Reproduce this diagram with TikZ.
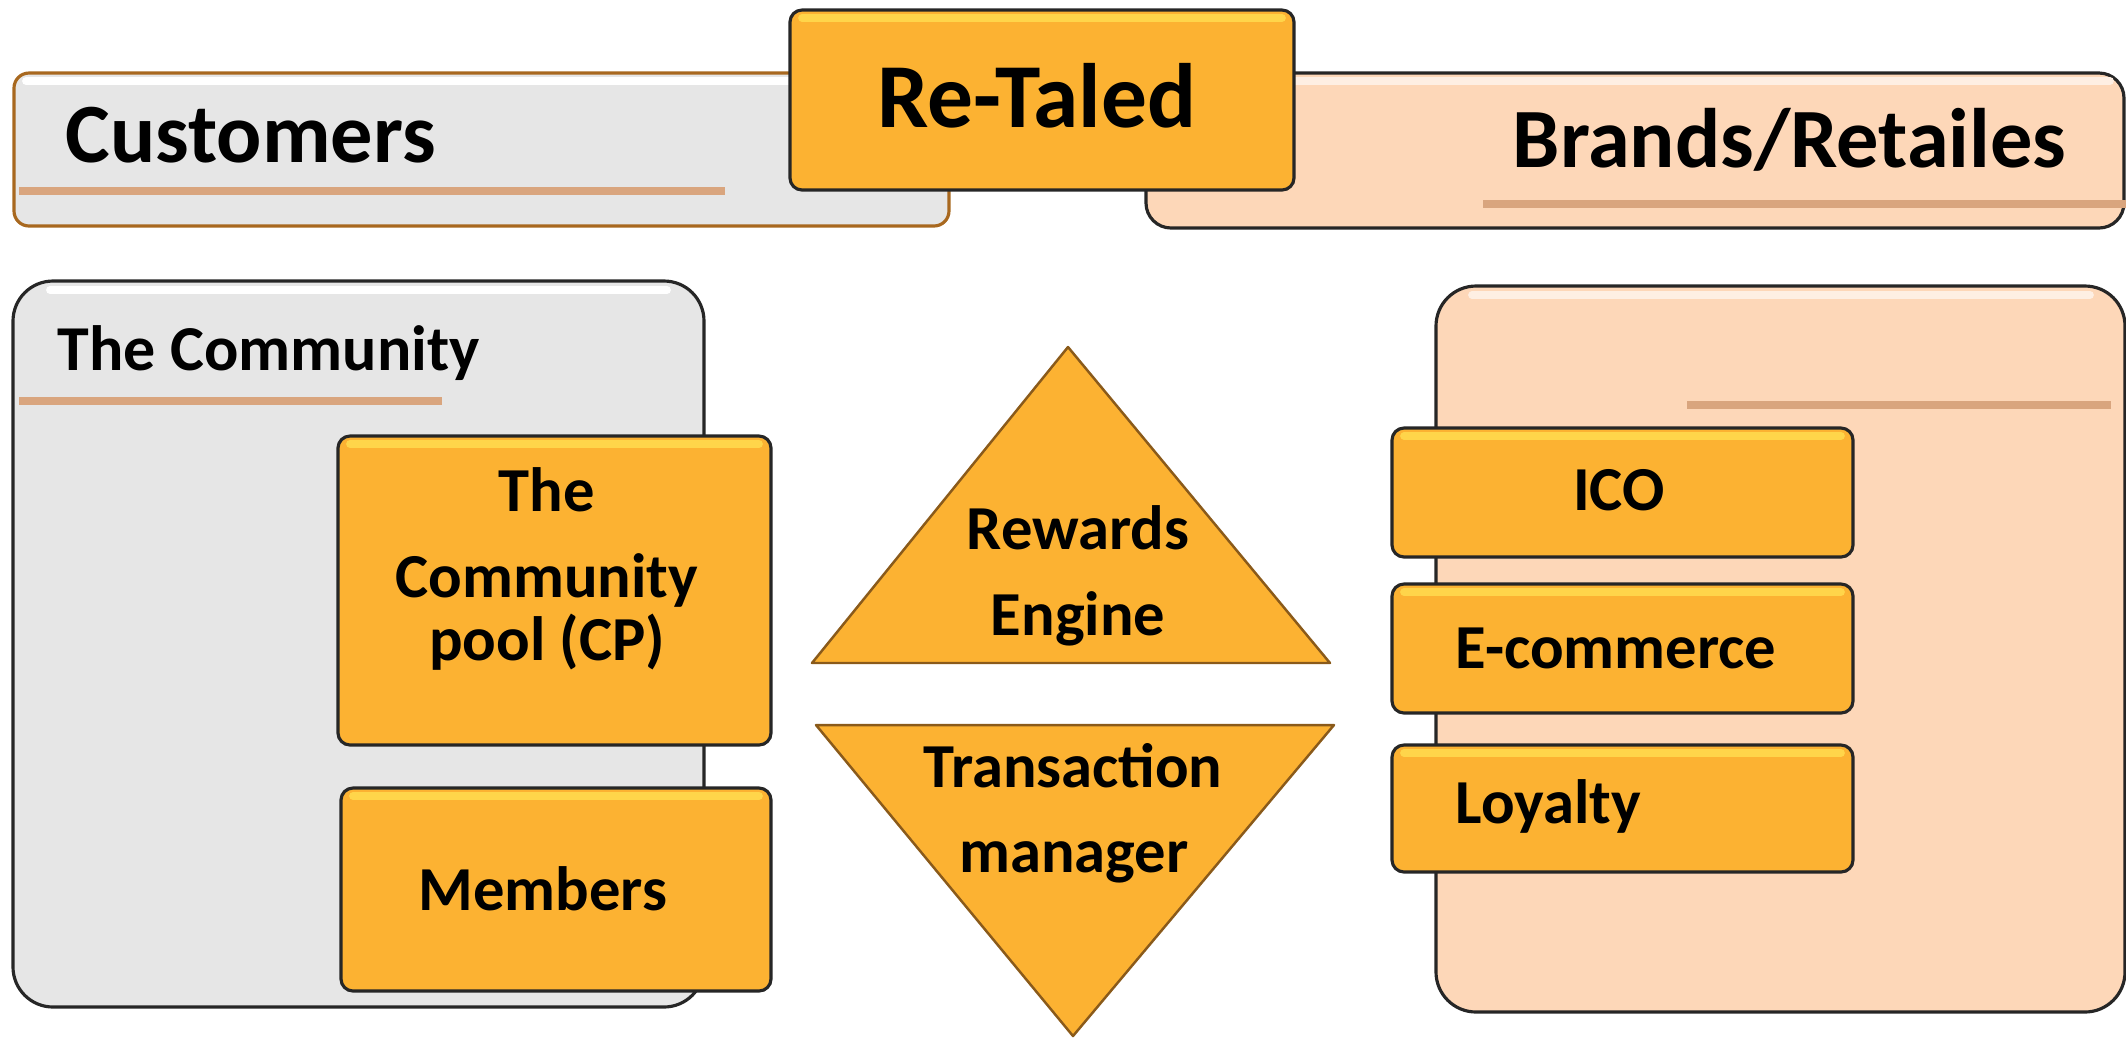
\documentclass[tikz,border=0pt]{standalone}
\usepackage{fontspec}
\setmainfont{Carlito}
\definecolor{tileorange}{HTML}{FCB232}
\definecolor{tilelight}{HTML}{FFD54A}
\definecolor{custgray}{HTML}{E6E6E6}
\definecolor{brandpeach}{HTML}{FDD7B8}
\definecolor{ruletan}{HTML}{D9A57E}
\definecolor{edgedark}{HTML}{262626}
\definecolor{edgebrown}{HTML}{A8681F}
\definecolor{wedgeedge}{HTML}{8A5A1A}
\begin{document}
\begin{tikzpicture}[x=0.01cm,y=-0.01cm,line join=round,
	panel/.style={draw=edgedark,line width=0.9pt,rounded corners=0.4cm},
	tile/.style={draw=edgedark,fill=tileorange,line width=0.9pt,rounded corners=0.12cm},
	wedge/.style={draw=wedgeedge,fill=tileorange,line width=0.7pt},
	gloss/.style={line width=2.2pt,line cap=round},
	rule/.style={ruletan,line width=2.2pt},
	label/.style={font=\fontsize{17.8}{20}\selectfont\bfseries,inner sep=0pt},
	title/.style={font=\fontsize{24}{28}\selectfont\bfseries,inner sep=0pt}]
	\useasboundingbox (0,0) rectangle (2126,1038);
	\path 
	(14,73) coordinate (CA) (949,226) coordinate (CB)
	(1146,73) coordinate (BA) (2124,228) coordinate (BB)
	(13,281) coordinate (PA) (704,1007) coordinate (PB)
	(1436,286) coordinate (RA) (2125,1012) coordinate (RB)
	(1068,347) coordinate (RT) (812,663) coordinate (RL) (1330,663) coordinate (RR)
	(816,725) coordinate (TL) (1334,725) coordinate (TR) (1073,1036) coordinate (TB)
	;
	\draw[panel,draw=edgebrown,fill=custgray,rounded corners=0.15cm] (CA) rectangle (CB);
	\draw[gloss,white] (26,81)--(937,81);
	\draw[rule] (19,191)--(725,191);
	\draw[panel,fill=brandpeach,rounded corners=0.25cm] (BA) rectangle (BB);
	\draw[gloss,white!60!brandpeach] (1160,81)--(2110,81);
	\draw[rule] (1483,204)--(2126,204);
	\draw[tile] (790,10) rectangle (1294,190);
	\draw[gloss,tilelight] (802,18)--(1282,18);
	\draw[panel,fill=custgray] (PA) rectangle (PB);
	\draw[gloss,white] (50,290)--(667,290);
	\draw[rule] (19,401)--(442,401);
	\draw[panel,fill=brandpeach] (RA) rectangle (RB);
	\draw[gloss,white!60!brandpeach] (1472,295)--(2090,295);
	\draw[rule] (1687,405)--(2111,405);
	\foreach \a/\b/\c/\d in {338/436/771/745,341/788/771/991,1392/428/1853/557,1392/584/1853/713,1392/745/1853/872}{
		\draw[tile] (\a,\b) rectangle (\c,\d);
		\draw[gloss,tilelight] (\a+12,\b+8)--(\c-12,\b+8);
	};
	\draw[wedge] (RL)--(RT)--(RR)--cycle;
	\draw[wedge] (TL)--(TR)--(TB)--cycle;
	\node[title,anchor=base west] (cust) at (65,162) {Customers};
	\node[title,anchor=base west] (brands) at (1512,167) {Brands/Retailes};
	\node[title,font=\fontsize{26}{30}\selectfont\bfseries,anchor=base] (retaled) at (1037,127) {Re-Taled};
	\node[label,font=\fontsize{18.2}{20}\selectfont\bfseries,anchor=base west] (comm) at (57,370) {The Community};
	\foreach \n/\x/\y/\t in {poolA/547/511/The,poolB/547/597/Community,poolC/547/660/pool (CP),memb/543/910/Members,ico/1619/510/ICO,rewA/1078/549/Rewards,rewB/1078/635/Engine,trA/1073/787/Transaction,trB/1074/872/manager}{
		\node[label,anchor=base] (\n) at (\x,\y) {\t};
	};
	\node[label,anchor=base west] (ecom) at (1455,668) {E-commerce};
	\node[label,anchor=base west] (loyal) at (1455,823) {Loyalty};
\end{tikzpicture}
\end{document}
